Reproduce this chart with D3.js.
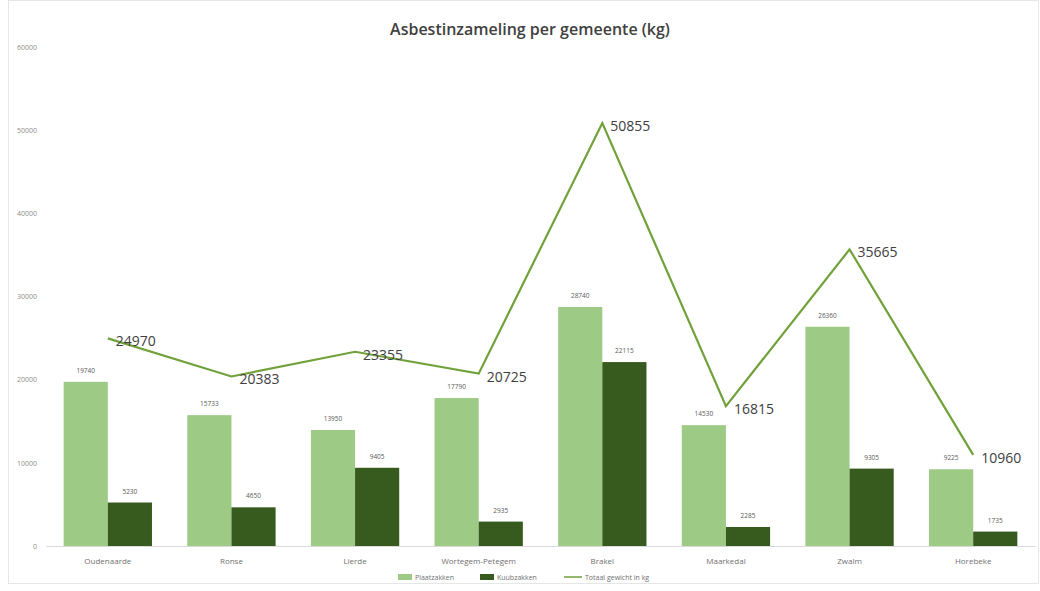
<!DOCTYPE html>
<html>
<head>
<meta charset="utf-8">
<script src="https://cdn.jsdelivr.net/npm/d3@7"></script>
<style>
  body { margin: 0; background: #fff; }
  text { font-family: "Open Sans", "Noto Sans", sans-serif; }
</style>
</head>
<body>
<div id="chart"></div>
<script>
var categories = ["Oudenaarde", "Ronse", "Lierde", "Wortegem-Petegem", "Brakel", "Maarkedal", "Zwalm", "Horebeke"];
var plaatzakken = [19740, 15733, 13950, 17790, 28740, 14530, 26360, 9225];
var kuubzakken = [5230, 4650, 9405, 2935, 22115, 2285, 9305, 1735];
var totaal = [24970, 20383, 23355, 20725, 50855, 16815, 35665, 10960];
var yTicks = [0, 10000, 20000, 30000, 40000, 50000, 60000];
var seriesNames = ["Plaatzakken", "Kuubzakken", "Totaal gewicht in kg"];

var cfg = {
  w: 1040, h: 591,
  left: 46, right: 1035, top: 47, bottom: 546,
  light: "#9dca84", dark: "#375a1f", line: "#70a13a"
};

var svg = d3.select("#chart").append("svg")
    .attr("width", cfg.w)
    .attr("height", cfg.h);

// chart border
svg.append("rect")
    .attr("x", 8.5).attr("y", 0.5)
    .attr("width", cfg.w - 10).attr("height", 583)
    .attr("fill", "none")
    .attr("stroke", "#e6e6e6");

svg.append("text")
    .attr("x", 530).attr("y", 35)
    .attr("text-anchor", "middle")
    .style("font-size", "16px")
    .style("font-weight", "600")
    .style("fill", "#404040")
    .text("Asbestinzameling per gemeente (kg)");

var x = d3.scaleBand().domain(categories).range([cfg.left, cfg.right]).paddingInner(0).paddingOuter(0);
var x1 = d3.scaleBand().domain([0, 1]).range([0, x.bandwidth()]).paddingOuter(0.4).paddingInner(0);
var y = d3.scaleLinear().domain([0, 60000]).range([cfg.bottom, cfg.top]);

var yAxis = d3.axisLeft(y).tickValues(yTicks).tickFormat(d3.format("d")).tickSize(0).tickPadding(0);
svg.append("g")
    .attr("transform", "translate(37,0)")
    .call(yAxis)
    .call(function(g) { g.select(".domain").remove(); })
    .selectAll("text")
    .style("font-size", "7px")
    .style("fill", "#8c8c8c")
    .attr("text-anchor", "end");

var xAxis = d3.axisBottom(x).tickSize(0).tickPadding(12);
svg.append("g")
    .attr("transform", "translate(0," + cfg.bottom + ")")
    .call(xAxis)
    .call(function(g) { g.select(".domain").attr("stroke", "#d9d9d9"); })
    .selectAll("text")
    .style("font-size", "8px")
    .style("fill", "#707070");

var groups = svg.selectAll(".grp")
    .data(categories)
  .enter().append("g")
    .attr("transform", function(d) { return "translate(" + x(d) + ",0)"; });

[plaatzakken, kuubzakken].forEach(function(vals, s) {
  groups.append("rect")
      .attr("x", x1(s))
      .attr("width", x1.bandwidth())
      .attr("y", function(d, i) { return y(vals[i]); })
      .attr("height", function(d, i) { return cfg.bottom - y(vals[i]); })
      .style("fill", s === 0 ? cfg.light : cfg.dark);
  groups.append("text")
      .attr("x", x1(s) + x1.bandwidth() / 2)
      .attr("y", function(d, i) { return y(vals[i]) - 9; })
      .attr("text-anchor", "middle")
      .style("font-size", "6.5px")
      .style("fill", "#595959")
      .text(function(d, i) { return vals[i]; });
});

var line = d3.line()
    .x(function(d, i) { return x(categories[i]) + x.bandwidth() / 2; })
    .y(function(d) { return y(d); });

svg.append("path")
    .datum(totaal)
    .attr("d", line)
    .attr("fill", "none")
    .attr("stroke", cfg.line)
    .attr("stroke-width", 2.2);

svg.selectAll(".tot")
    .data(totaal)
  .enter().append("text")
    .attr("x", function(d, i) { return x(categories[i]) + x.bandwidth() / 2 + 8; })
    .attr("y", function(d) { return y(d) + 8; })
    .style("font-size", "14px")
    .style("fill", "#404040")
    .text(function(d) { return d; });

// legend
var lg = svg.append("g").attr("transform", "translate(398,578)");
lg.append("rect").attr("x", 0).attr("y", -4).attr("width", 14).attr("height", 6).style("fill", cfg.light);
lg.append("text").attr("x", 17).attr("y", 2).style("font-size", "7px").style("fill", "#707070").text(seriesNames[0]);
lg.append("rect").attr("x", 82).attr("y", -4).attr("width", 14).attr("height", 6).style("fill", cfg.dark);
lg.append("text").attr("x", 99).attr("y", 2).style("font-size", "7px").style("fill", "#707070").text(seriesNames[1]);
lg.append("line").attr("x1", 166).attr("x2", 184).attr("y1", -1).attr("y2", -1).attr("stroke", cfg.line).attr("stroke-width", 1.5);
lg.append("text").attr("x", 187).attr("y", 2).style("font-size", "7px").style("fill", "#707070").text(seriesNames[2]);
</script>
</body>
</html>
